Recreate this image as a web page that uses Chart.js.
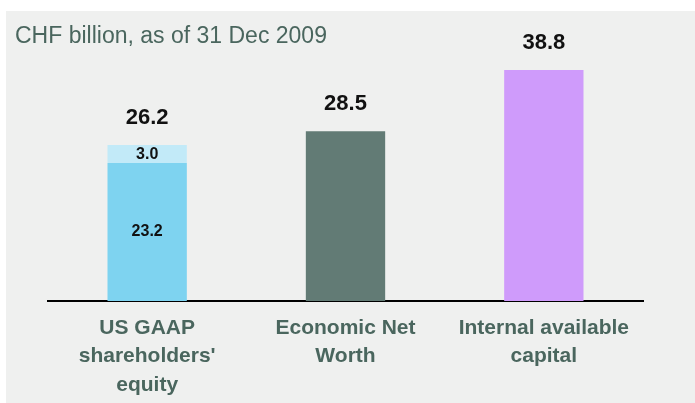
<!DOCTYPE html>
<html>
<head>
<meta charset="utf-8">
<script src="https://cdn.jsdelivr.net/npm/chart.js@4"></script>
<style>
  body { margin: 0; background: #fff; overflow: hidden; }
  #panel { position: absolute; left: 6px; top: 11px; width: 689px; height: 392px; background: #eff0ef; overflow: hidden; }
  #title { position: absolute; left: 9px; top: 11px; font: 23px "Liberation Sans", Arial, sans-serif; color: #4a665e; white-space: nowrap; }
  #wrap { position: absolute; left: 0; top: 0; width: 689px; height: 401px; }
</style>
</head>
<body>
<div id="panel">
  <div id="wrap"><canvas id="capitalChart"></canvas></div>
  <div id="title">CHF billion, as of 31 Dec 2009</div>
</div>
<script>
const categories = [
  ['US GAAP', "shareholders'", 'equity'],
  ['Economic Net', 'Worth'],
  ['Internal available', 'capital']
];
const baseValues = [23.2, 28.5, 38.8];
const addonValues = [3.0, 0, 0];
const totals = [26.2, 28.5, 38.8];

const baseColors = ['#7ed3f0', '#627b75', '#cf9bfb'];
const addonColor = '#c2eaf8';

// draws the totals above each bar and the split values inside the stacked one
const valueLabels = {
  id: 'valueLabels',
  afterDatasetsDraw(chart) {
    const ctx = chart.ctx;
    const baseMeta = chart.getDatasetMeta(0);
    const addonMeta = chart.getDatasetMeta(1);
    ctx.save();
    ctx.textAlign = 'center';
    ctx.textBaseline = 'middle';
    totals.forEach((total, i) => {
      const baseBar = baseMeta.data[i];
      const topBar = addonValues[i] > 0 ? addonMeta.data[i] : baseBar;
      ctx.fillStyle = '#111';
      ctx.font = 'bold 22px "Liberation Sans", Arial, sans-serif';
      ctx.fillText(total.toFixed(1), baseBar.x, topBar.y - 27);
      if (addonValues[i] > 0) {
        ctx.font = 'bold 16px "Liberation Sans", Arial, sans-serif';
        ctx.fillText(baseValues[i].toFixed(1), baseBar.x, (baseBar.y + baseBar.base) / 2);
        const a = addonMeta.data[i];
        ctx.fillText(addonValues[i].toFixed(1), a.x, (a.y + a.base) / 2 + 1);
      }
    });
    ctx.restore();
  }
};

const ctx = document.getElementById('capitalChart').getContext('2d');
new Chart(ctx, {
  type: 'bar',
  data: {
    labels: categories,
    datasets: [
      {
        label: 'Base',
        data: baseValues,
        backgroundColor: baseColors,
        barPercentage: 0.4,
        categoryPercentage: 1
      },
      {
        label: 'Addon',
        data: addonValues,
        backgroundColor: addonColor,
        barPercentage: 0.4,
        categoryPercentage: 1
      }
    ]
  },
  options: {
    responsive: true,
    maintainAspectRatio: false,
    animation: false,
    layout: {
      padding: { left: 42, right: 52, top: 40, bottom: 0 }
    },
    scales: {
      x: {
        stacked: true,
        grid: { display: false, drawTicks: false },
        border: { display: true, color: '#000', width: 2 },
        ticks: {
          padding: 13,
          color: '#4a665e',
          maxRotation: 0,
          font: { family: '"Liberation Sans", Arial, sans-serif', size: 21, weight: 'bold', lineHeight: 1.35 }
        }
      },
      y: {
        stacked: true,
        display: false,
        min: 0,
        max: 42
      }
    },
    plugins: {
      legend: { display: false },
      tooltip: { enabled: false }
    }
  },
  plugins: [valueLabels]
});
</script>
</body>
</html>
